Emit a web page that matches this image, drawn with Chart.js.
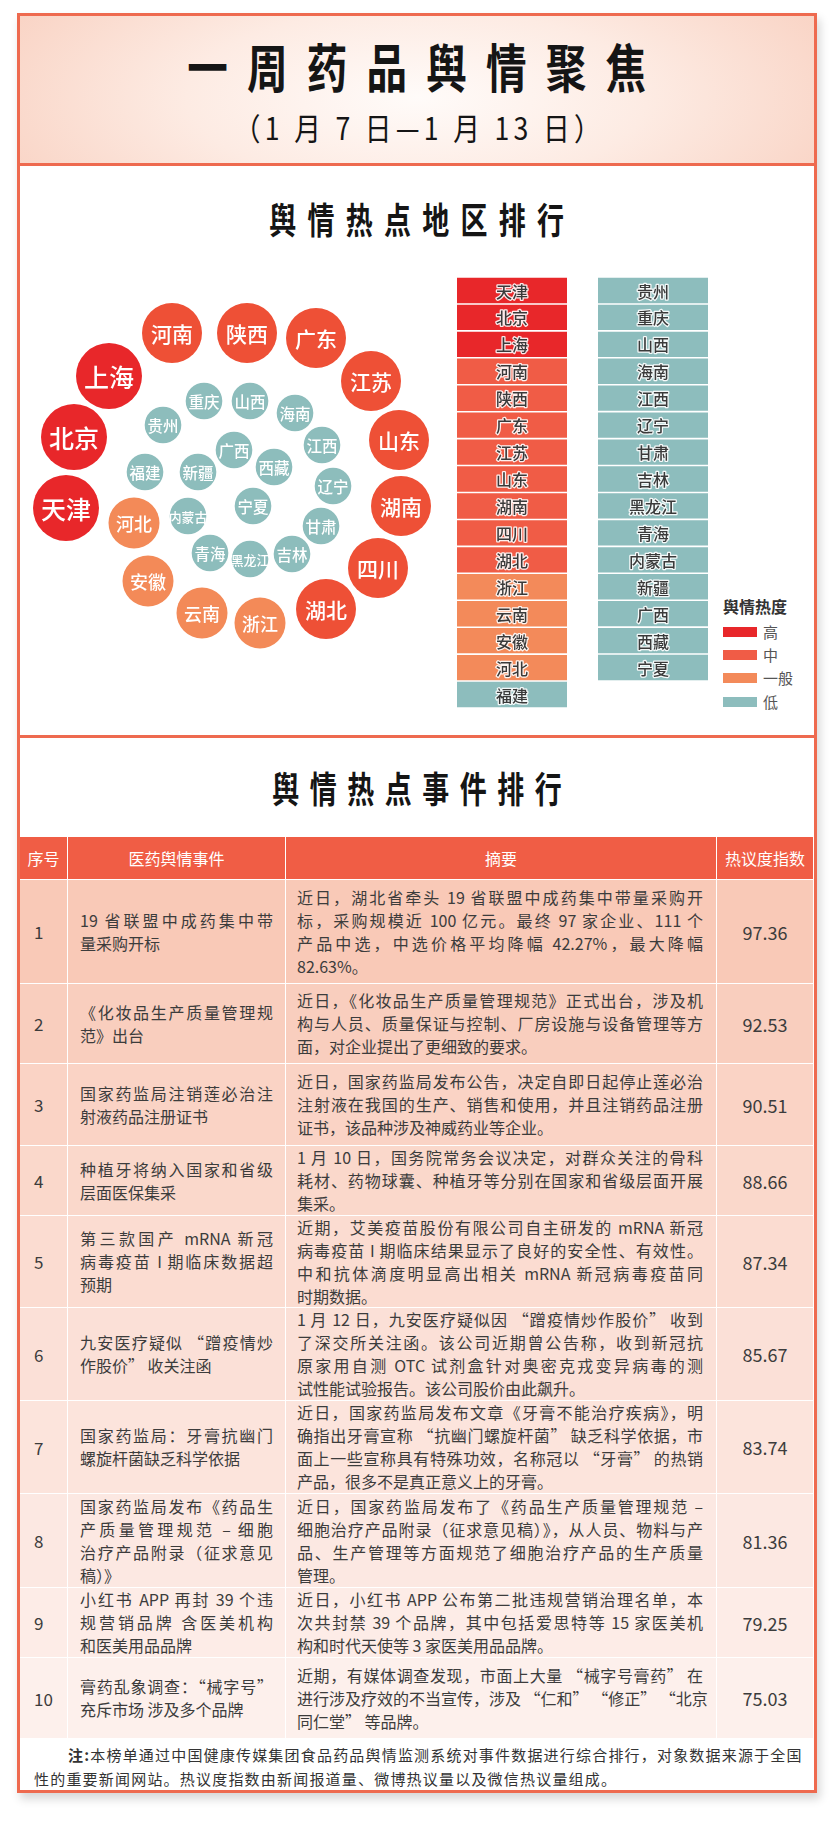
<!DOCTYPE html>
<html><head><meta charset="utf-8">
<script src="https://cdn.jsdelivr.net/npm/chart.js@4.4.0/dist/chart.umd.min.js"></script>
<style>
html,body{margin:0;padding:0;background:#fff;}
body{width:832px;height:1832px;position:relative;overflow:hidden;font-family:"Noto Sans CJK SC","Noto Sans",sans-serif;color:#3c3c3c;}
.abs{position:absolute;}
#frame{left:17px;top:13px;width:800px;height:1780px;border:3.5px solid #ee6a4f;box-sizing:border-box;box-shadow:3px 6px 9px rgba(0,0,0,0.16);background:#fff;}
#hdr{left:20px;top:16px;width:794px;height:148px;background:radial-gradient(ellipse 58% 120% at 50% 55%, #fffbf9 0%, #fdebe3 50%, #f9d3c4 100%);}
.hline{background:#ee6a4f;height:3px;left:17px;width:800px;}
.ttl{left:20px;width:794px;text-align:center;line-height:1;color:#151515;white-space:nowrap;}
.ttl span{display:inline-block;transform-origin:50% 50%;}
.cell{position:absolute;box-sizing:border-box;display:flex;flex-direction:column;justify-content:center;}
.ln{white-space:nowrap;text-align:justify;text-align-last:justify;height:23px;line-height:23px;}
.ln.last{text-align:left;text-align-last:left;}
.lg{font-size:15px;color:#555;}
</style></head>
<body>
<div id="frame" class="abs"></div>
<div id="hdr" class="abs"></div>
<div class="abs hline" style="top:163px"></div>
<div class="abs hline" style="top:735px"></div>

<div class="abs ttl" style="top:40px;font-size:52px;font-weight:700;"><span style="letter-spacing:24.6px;padding-left:24.6px;transform:scaleX(0.78)">一周药品舆情聚焦</span></div>
<div class="abs ttl" style="top:111px;font-size:31px;font-weight:400;"><span style="letter-spacing:5px;padding-left:5px;transform:scaleX(0.86)">（1 月 7 日—1 月 13 日）</span></div>
<div class="abs ttl" style="top:200px;font-size:36px;font-weight:700;"><span style="letter-spacing:15px;padding-left:15px;transform:scaleX(0.75)">舆情热点地区排行</span></div>
<div class="abs ttl" style="top:769px;font-size:36px;font-weight:700;"><span style="letter-spacing:14px;padding-left:14px;transform:scaleX(0.75)">舆情热点事件排行</span></div>

<canvas id="bubbles" class="abs" width="420" height="480" style="left:20px;top:250px;width:420px;height:480px;"></canvas>
<canvas id="listA" class="abs" width="110" height="431" style="left:457px;top:277px;width:110px;height:431px;"></canvas>
<canvas id="listB" class="abs" width="110" height="404" style="left:598px;top:277px;width:110px;height:404px;"></canvas>

<div class="abs" style="left:723px;top:595px;font-size:16px;font-weight:700;color:#333;line-height:22px;">舆情热度</div>
<div id="legend"></div>

<div id="table"></div>

<script>
// ===== DATA =====
const provinces = ["天津","北京","上海","河南","陕西","广东","江苏","山东","湖南","四川","湖北","浙江","云南","安徽","河北","福建",
  "贵州","重庆","山西","海南","江西","辽宁","甘肃","吉林","黑龙江","青海","内蒙古","新疆","广西","西藏","宁夏"];
// 3 = 高, 2 = 中, 1 = 一般, 0 = 低
const heatLevels = [3,3,3,2,2,2,2,2,2,2,2,1,1,1,1,0, 0,0,0,0,0,0,0,0,0,0,0,0,0,0,0];
// bubble cluster coordinates (spiral layout, data units)
const clusterX = [46,54,89,152,227,296,351,379,381,358,306,240,182,128,114,125, 143,184,230,275,302,313,301,272,230,190,168,178,214,254,233];
const clusterY = [258,187,126,83,83,88,131,190,256,318,359,373,363,331,273,222, 175,151,151,163,195,236,276,304,309,303,266,222,200,217,256];
const levelNames = ["高","中","一般","低"];

const tableHeaders = ["序号","医药舆情事件","摘要","热议度指数"];
const eventRanks = ["1","2","3","4","5","6","7","8","9","10"];
const eventTitles = [
  ["19 省联盟中成药集中带","量采购开标"],
  ["《化妆品生产质量管理规","范》出台"],
  ["国家药监局注销莲必治注","射液药品注册证书"],
  ["种植牙将纳入国家和省级","层面医保集采"],
  ["第三款国产 mRNA 新冠","病毒疫苗 I 期临床数据超","预期"],
  ["九安医疗疑似 “蹭疫情炒","作股价” 收关注函"],
  ["国家药监局：牙膏抗幽门","螺旋杆菌缺乏科学依据"],
  ["国家药监局发布《药品生","产质量管理规范 – 细胞","治疗产品附录（征求意见","稿）》"],
  ["小红书 APP 再封 39 个违","规营销品牌  含医美机构","和医美用品品牌"],
  ["膏药乱象调查：“械字号”","充斥市场  涉及多个品牌"]
];
const eventSummaries = [
  ["近日，湖北省牵头 19 省联盟中成药集中带量采购开","标，采购规模近 100 亿元。最终 97 家企业、111 个","产品中选，中选价格平均降幅 42.27%，最大降幅","82.63%。"],
  ["近日，《化妆品生产质量管理规范》正式出台，涉及机","构与人员、质量保证与控制、厂房设施与设备管理等方","面，对企业提出了更细致的要求。"],
  ["近日，国家药监局发布公告，决定自即日起停止莲必治","注射液在我国的生产、销售和使用，并且注销药品注册","证书，该品种涉及神威药业等企业。"],
  ["1 月 10 日，国务院常务会议决定，对群众关注的骨科","耗材、药物球囊、种植牙等分别在国家和省级层面开展","集采。"],
  ["近期，艾美疫苗股份有限公司自主研发的 mRNA 新冠","病毒疫苗 I 期临床结果显示了良好的安全性、有效性。","中和抗体滴度明显高出相关 mRNA 新冠病毒疫苗同","时期数据。"],
  ["1 月 12 日，九安医疗疑似因 “蹭疫情炒作股价” 收到","了深交所关注函。该公司近期曾公告称，收到新冠抗","原家用自测 OTC 试剂盒针对奥密克戎变异病毒的测","试性能试验报告。该公司股价由此飙升。"],
  ["近日，国家药监局发布文章《牙膏不能治疗疾病》，明","确指出牙膏宣称 “抗幽门螺旋杆菌” 缺乏科学依据，市","面上一些宣称具有特殊功效，名称冠以 “牙膏” 的热销","产品，很多不是真正意义上的牙膏。"],
  ["近日，国家药监局发布了《药品生产质量管理规范 –","细胞治疗产品附录（征求意见稿）》，从人员、物料与产","品、生产管理等方面规范了细胞治疗产品的生产质量","管理。"],
  ["近日，小红书 APP 公布第二批违规营销治理名单，本","次共封禁 39 个品牌，其中包括爱思特等 15 家医美机","构和时代天使等 3 家医美用品品牌。"],
  ["近期，有媒体调查发现，市面上大量 “械字号膏药” 在","进行涉及疗效的不当宣传，涉及 “仁和” “修正” “北京","同仁堂” 等品牌。"]
];
const heatIndex = [97.36, 92.53, 90.51, 88.66, 87.34, 85.67, 83.74, 81.36, 79.25, 75.03];
const noteLines = ["本榜单通过中国健康传媒集团食品药品舆情监测系统对事件数据进行综合排行，对象数据来源于全国","性的重要新闻网站。热议度指数由新闻报道量、微博热议量以及微信热议量组成。"];

// ===== STYLE / LAYOUT =====
const bubbleColors = {3:"#e8272a",2:"#ee5036",1:"#f38a58",0:"#8dbdbc"};
const tileColors = {3:"#e8272a",2:"#f05c46",1:"#f38a5a",0:"#8dbdbd"};
const bubbleRadius = {3:33,2:30,1:25.5,0:18.3};
const bubbleFont = {3:25,2:21,1:18,0:15.5};
const rowTops = [879,983,1063,1145,1215,1307,1400,1493,1587,1657,1738];
const rowColors = ["#f9c9b7","#f9cebe","#fad3c5","#fad8cb","#fbdcd1","#fbe0d7","#fce4dc","#fce8e2","#fdece7","#fdf0ec"];
const colX = [20,67,285,716,813];

// ===== BUBBLE CHART =====
const bubbleLabelPlugin = {
  id:'bubbleLabels',
  afterDatasetsDraw(chart){
    const ctx = chart.ctx;
    const meta = chart.getDatasetMeta(0);
    meta.data.forEach((el,i)=>{
      const lv = heatLevels[i], name = provinces[i];
      const r = bubbleRadius[lv];
      const fs = Math.min(bubbleFont[lv], (2*r+2)/name.length);
      ctx.save();
      ctx.font = `500 ${fs}px "Noto Sans CJK SC"`;
      ctx.fillStyle = '#fff';
      ctx.textAlign = 'center';
      ctx.textBaseline = 'middle';
      ctx.fillText(name, el.x, el.y + 1);
      ctx.restore();
    });
  }
};
new Chart(document.getElementById('bubbles'), {
  type:'bubble',
  data:{ datasets:[{
    data: provinces.map((p,i)=>({x:clusterX[i], y:clusterY[i], r:bubbleRadius[heatLevels[i]]})),
    backgroundColor: heatLevels.map(l=>bubbleColors[l]),
    borderWidth:0, clip:false
  }]},
  options:{
    responsive:false, animation:false, events:[],
    layout:{padding:0, autoPadding:false},
    plugins:{legend:{display:false}, tooltip:{enabled:false}},
    scales:{
      x:{type:'linear', min:0, max:420, display:false},
      y:{type:'linear', min:0, max:480, reverse:true, display:false}
    }
  },
  plugins:[bubbleLabelPlugin]
});

// ===== RANKING TILES =====
const tileLabelPlugin = {
  id:'tileLabels',
  afterDatasetsDraw(chart){
    const ctx = chart.ctx;
    const meta = chart.getDatasetMeta(0);
    const labels = chart.data.labels;
    meta.data.forEach((el,i)=>{
      const cx = (el.x + el.base)/2;
      ctx.save();
      ctx.font = `500 16px "Noto Sans CJK SC"`;
      ctx.textAlign='center'; ctx.textBaseline='middle';
      ctx.lineJoin='round';
      ctx.strokeStyle='rgba(255,255,255,0.9)'; ctx.lineWidth=2.5;
      ctx.strokeText(labels[i], cx, el.y+1);
      ctx.fillStyle='#3a3a3a';
      ctx.fillText(labels[i], cx, el.y+1);
      ctx.restore();
    });
  }
};
function tileChart(id, from, to){
  const labels = provinces.slice(from,to);
  const lv = heatLevels.slice(from,to);
  new Chart(document.getElementById(id), {
    type:'bar',
    data:{ labels, datasets:[{ data: labels.map(()=>1), backgroundColor: lv.map(l=>tileColors[l]),
      borderWidth:0, barPercentage:1, categoryPercentage:0.94 }]},
    options:{
      indexAxis:'y', responsive:false, animation:false, events:[],
      layout:{padding:0, autoPadding:false},
      plugins:{legend:{display:false}, tooltip:{enabled:false}},
      scales:{ x:{min:0,max:1,display:false}, y:{display:false} }
    },
    plugins:[tileLabelPlugin]
  });
}
tileChart('listA',0,16);
tileChart('listB',16,31);

// legend
const legendEl = document.getElementById('legend');
const legendY = [632,655,678,702];
[3,2,1,0].forEach((lv,k)=>{
  const sw = document.createElement('div');
  sw.className='abs'; sw.style.cssText=`left:723px;top:${legendY[k]-5}px;width:34px;height:10px;background:${tileColors[lv]}`;
  legendEl.appendChild(sw);
  const tx = document.createElement('div');
  tx.className='abs lg'; tx.style.cssText+=`left:763px;top:${legendY[k]-11}px;line-height:22px;`;
  tx.textContent = levelNames[k];
  legendEl.appendChild(tx);
});

// ===== TABLE =====
const tbl = document.getElementById('table');
function mk(css, html){ const d=document.createElement('div'); d.className='cell'; d.style.cssText=css; if(html!==undefined) d.innerHTML=html; tbl.appendChild(d); return d; }
function lines(arr){ return arr.map((t,i)=>`<div class="ln${i===arr.length-1?' last':''}">${t}</div>`).join(''); }
for(let c=0;c<4;c++){
  mk(`left:${colX[c]+(c?1:0)}px;top:837px;width:${colX[c+1]-colX[c]-(c?1:0)}px;height:42px;background:#f05d45;color:#fff;font-size:16px;align-items:center;`, tableHeaders[c]);
}
for(let r=0;r<10;r++){
  const top = rowTops[r]+1, h = rowTops[r+1]-rowTops[r]-1, bg=rowColors[r];
  mk(`left:${colX[0]}px;top:${top}px;width:${colX[1]-colX[0]}px;height:${h}px;background:${bg};padding-left:14px;font-size:17px;`, eventRanks[r]);
  mk(`left:${colX[1]+1}px;top:${top}px;width:${colX[2]-colX[1]-1}px;height:${h}px;background:${bg};padding-left:12px;font-size:16px;`, `<div style="width:193px">${lines(eventTitles[r])}</div>`);
  mk(`left:${colX[2]+1}px;top:${top}px;width:${colX[3]-colX[2]-1}px;height:${h}px;background:${bg};padding-left:11px;font-size:16px;`, `<div style="width:406px">${lines(eventSummaries[r])}</div>`);
  mk(`left:${colX[3]+1}px;top:${top}px;width:${colX[4]-colX[3]-1}px;height:${h}px;background:${bg};font-size:18px;align-items:center;`, heatIndex[r].toFixed(2));
}
mk(`left:34px;top:1743px;width:768px;height:46px;font-size:15px;color:#333;justify-content:flex-start;`,
  `<div class="ln" style="padding-left:34px;height:24px;line-height:24px;letter-spacing:0.5px"><b>注:</b>${noteLines[0]}</div><div class="ln last" style="height:24px;line-height:24px;letter-spacing:1.2px">${noteLines[1]}</div>`);
</script>
</body></html>
